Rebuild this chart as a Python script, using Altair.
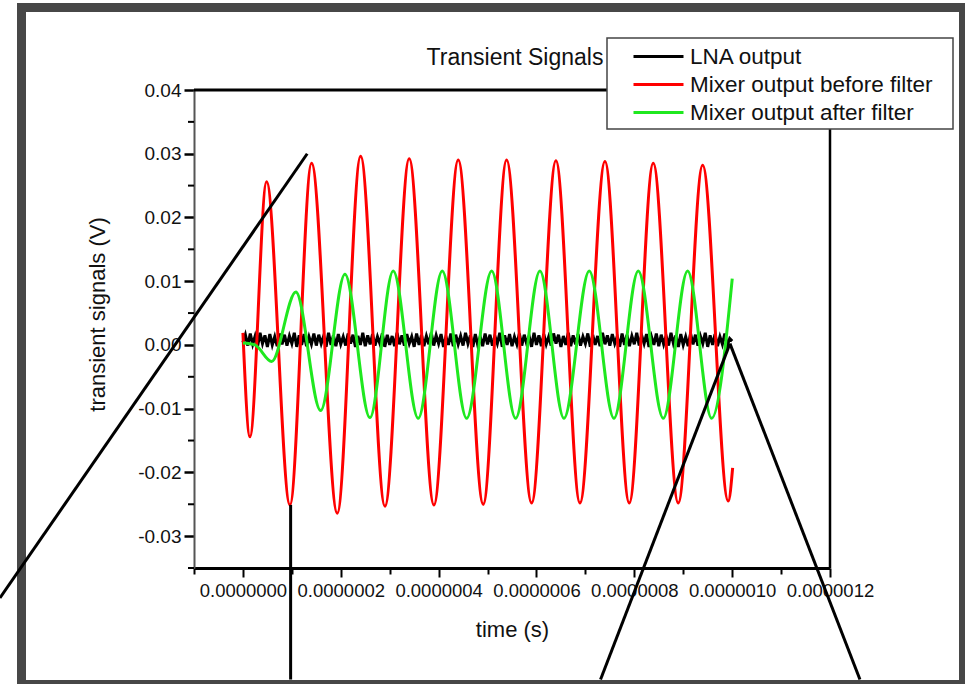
import altair as alt
import pandas as pd

# ---------------- data (time in microseconds, voltage in volts) ----------------
series_names = ["LNA output", "Mixer output before filter", "Mixer output after filter"]
series_colors = ["#000000", "#ff0000", "#1fe81f"]

# LNA output: dense small oscillation, sampled every 0.005 us (values in mV)
lna_step_us = 0.005
lna_mv = [
    0.4, 1.6, -0.1, 1.8, 0.1, 1.4, -0.2, 1.9, 0.2, 1.5,
    -0.3, 1.7, 0.0, 1.3, -0.2, 1.8, 0.1, 1.6, -0.1, 1.4,
    0.2, 1.9, -0.3, 1.5, 0.0, 1.7, -0.2, 1.3, 0.1, 1.8,
    -0.1, 1.6, 0.2, 1.4, -0.3, 1.9, 0.0, 1.5, -0.2, 1.7,
    0.1, 1.3, -0.1, 1.8, 0.2, 1.6, -0.3, 1.4, 0.0, 1.9,
    -0.2, 1.5, 0.1, 1.7, -0.1, 1.3, 0.2, 1.8, -0.3, 1.6,
    0.0, 1.4, -0.2, 1.9, 0.1, 1.5, -0.1, 1.7, 0.2, 1.3,
    -0.3, 1.8, 0.0, 1.6, -0.2, 1.4, 0.1, 1.9, -0.1, 1.5,
    0.2, 1.7, -0.3, 1.3, 0.0, 1.8, -0.2, 1.6, 0.1, 1.4,
    -0.1, 1.9, 0.2, 1.5, -0.3, 1.7, 0.0, 1.3, -0.2, 1.8,
    0.1, 1.6, -0.1, 1.4, 0.2, 1.9, -0.3, 1.5, 0.0, 1.7,
    -0.2, 1.3, 0.1, 1.8, -0.1, 1.6, 0.2, 1.4, -0.3, 1.9,
    0.0, 1.5, -0.2, 1.7, 0.1, 1.3, -0.1, 1.8, 0.2, 1.6,
    -0.3, 1.4, 0.0, 1.9, -0.2, 1.5, 0.1, 1.7, -0.1, 1.3,
    0.2, 1.8, -0.3, 1.6, 0.0, 1.4, -0.2, 1.9, 0.1, 1.5,
    -0.1, 1.7, 0.2, 1.3, -0.3, 1.8, 0.0, 1.6, -0.2, 1.4,
    0.1, 1.9, -0.1, 1.5, 0.2, 1.7, -0.3, 1.3, 0.0, 1.8,
    -0.2, 1.6, 0.1, 1.4, -0.1, 1.9, 0.2, 1.5, -0.3, 1.7,
    0.0, 1.3, -0.2, 1.8, 0.1, 1.6, -0.1, 1.4, 0.2, 1.9,
    -0.3, 1.5, 0.0, 1.7, -0.2, 1.3, 0.1, 1.8, -0.1, 1.0,
    0.6,
]

# Mixer output before filter: extrema
red_t_us = [0.000, 0.0143, 0.0484, 0.0961, 0.1404, 0.1928, 0.2406, 0.2903, 0.3399,
            0.3904, 0.4401, 0.4912, 0.5390, 0.5901, 0.6398, 0.6889, 0.7400, 0.7897,
            0.8387, 0.8898, 0.9397, 0.9920, 1.0010]
red_v = [0.0019, -0.0144, 0.0256, -0.0251, 0.0285, -0.0264, 0.0296, -0.0253, 0.0292,
         -0.0251, 0.0290, -0.0250, 0.0290, -0.0248, 0.0289, -0.0248, 0.0288, -0.0248,
         0.0285, -0.0248, 0.0282, -0.0245, -0.0193]

# Mixer output after filter: extrema
green_t_us = [0.000, 0.0245, 0.0587, 0.1083, 0.1588, 0.2085, 0.2596, 0.3072, 0.3583,
              0.4074, 0.4573, 0.5084, 0.5574, 0.6071, 0.6562, 0.7079, 0.7584, 0.8081,
              0.8592, 0.9090, 0.9581, 1.0002]
green_v = [0.0003, 0.0000, -0.0026, 0.0083, -0.0103, 0.0111, -0.0114, 0.0116, -0.0115,
           0.0116, -0.0115, 0.0116, -0.0115, 0.0116, -0.0115, 0.0116, -0.0115, 0.0116,
           -0.0115, 0.0116, -0.0115, 0.0104]

# annotation (zoom-indicator) lines, in data units (us, V)
ann_t0_us = [0.1314, 0.0975, 0.9955, 0.9955]
ann_v0 = [0.0300, -0.0251, 0.0002, 0.0002]
ann_t1_us = [-0.4967, 0.0975, 0.7310, 1.2612]
ann_v1 = [-0.0397, -0.0525, -0.0525, -0.0525]

x_domain = [-1e-7, 1.2e-6]
y_domain = [-0.035, 0.04]
x_tick_values = [k * 1e-7 for k in range(-1, 13)]
y_major_values = [k * 0.01 for k in range(-3, 5)]
y_minor_values = [-0.035, -0.025, -0.015, -0.005, 0.005, 0.015, 0.025, 0.035]

FONT = "Liberation Sans"
TXT = "#111111"

# ---------------- tables ----------------
lna_df = pd.DataFrame({
    "t": [i * lna_step_us * 1e-6 for i in range(len(lna_mv))],
    "v": [m / 1000.0 for m in lna_mv],
    "series": series_names[0],
})
red_df = pd.DataFrame({"t": [t * 1e-6 for t in red_t_us], "v": red_v, "series": series_names[1]})
green_df = pd.DataFrame({"t": [t * 1e-6 for t in green_t_us], "v": green_v, "series": series_names[2]})
ann_df = pd.DataFrame({
    "t0": [t * 1e-6 for t in ann_t0_us], "v0": ann_v0,
    "t1": [t * 1e-6 for t in ann_t1_us], "v1": ann_v1,
})
border_df = pd.DataFrame({
    "t0": [x_domain[0], x_domain[1]], "v0": [y_domain[1], y_domain[0]],
    "t1": [x_domain[1], x_domain[1]], "v1": [y_domain[1], y_domain[1]],
    "w": [3.0, 2.5],
})
minor_df = pd.DataFrame({"v": y_minor_values})

x_scale = alt.Scale(domain=x_domain, nice=False, zero=False)
y_scale = alt.Scale(domain=y_domain, nice=False, zero=False)

x_axis = alt.Axis(
    values=x_tick_values,
    labelExpr="round(datum.value*1e7) % 2 != 0 ? '' : format(datum.value, '.7f')",
    tickSize={"condition": {"test": "round(datum.value*1e7) % 2 != 0", "value": 6}, "value": 9},
    tickColor="#000000", tickWidth=2,
    domainColor="#000000", domainWidth=3,
    labelFont=FONT, labelFontSize=18.5, labelColor=TXT, labelPadding=4,
    labelFlush=False, labelOverlap=False,
    title="time (s)", titleFont=FONT, titleFontSize=22, titleFontWeight="normal",
    titleColor=TXT, titleY=61, titleBaseline="middle",
    grid=False,
)
y_axis = alt.Axis(
    values=y_major_values,
    labelExpr="(datum.value < -0.001 ? '-' : '') + format(abs(datum.value), '.2f')",
    tickSize=10, tickColor="#000000", tickWidth=2.5,
    domainColor="#555555", domainWidth=2,
    labelFont=FONT, labelFontSize=19, labelColor=TXT, labelPadding=3,
    labelFlush=False, labelOverlap=False,
    title="transient signals (V)", titleFont=FONT, titleFontSize=22, titleFontWeight="normal",
    titleColor=TXT, titleAngle=270, titleX=-97, titleY=224,
    titleBaseline="middle", titleAlign="center",
    grid=False,
)

color = alt.Color(
    "series:N",
    scale=alt.Scale(domain=series_names, range=series_colors),
    legend=alt.Legend(
        title=None, orient="none", legendX=413, legendY=-52,
        symbolType="M-2.5,0H2.5", symbolSize=400, symbolStrokeWidth=3,
        symbolOffset=33, labelOffset=20, labelLimit=600,
        labelFont=FONT, labelFontSize=22.5, labelColor=TXT,
        padding=7, rowPadding=5,
    ),
)

frame = alt.Chart(alt.Data(values=[{}])).mark_rect(
    fill=None, fillOpacity=0, stroke="#474747", strokeWidth=9
).encode(
    x=alt.value(-172.5), x2=alt.value(769.5), y=alt.value(-82.5), y2=alt.value(594.5)
)

def series_layer(df, width, interp):
    return alt.Chart(df).mark_line(strokeWidth=width, interpolate=interp).encode(
        x=alt.X("t:Q", scale=x_scale, axis=x_axis),
        y=alt.Y("v:Q", scale=y_scale, axis=y_axis),
        color=color,
    )

lna = series_layer(lna_df, 3, "linear")
red = series_layer(red_df, 3, "monotone")
green = series_layer(green_df, 3, "monotone")

minor_ticks = alt.Chart(minor_df).mark_rule(color="#000000", strokeWidth=2).encode(
    y=alt.Y("v:Q", scale=y_scale), x=alt.value(-6), x2=alt.value(0),
)

borders = alt.Chart(border_df).mark_rule(color="#000000").encode(
    x=alt.X("t0:Q", scale=x_scale), x2="t1:Q",
    y=alt.Y("v0:Q", scale=y_scale), y2="v1:Q",
    strokeWidth=alt.StrokeWidth("w:Q", scale=None, legend=None),
)

legend_box = alt.Chart(alt.Data(values=[{}])).mark_rect(
    fill="#ffffff", stroke="#444444", strokeWidth=1.5
).encode(
    x=alt.value(413), x2=alt.value(759), y=alt.value(-52), y2=alt.value(39)
)

ann = alt.Chart(ann_df).mark_rule(color="#000000", strokeWidth=3).encode(
    x=alt.X("t0:Q", scale=x_scale), x2="t1:Q",
    y=alt.Y("v0:Q", scale=y_scale), y2="v1:Q",
)

chart = alt.layer(frame, lna, red, green, minor_ticks, borders, legend_box, ann).properties(
    width=636, height=478,
    title=alt.TitleParams(
        "Transient Signals", font=FONT, fontSize=23, fontWeight="normal", color=TXT,
        anchor="middle", baseline="alphabetic", offset=23, dx=3, dy=108,
    ),
).configure(
    autosize=alt.AutoSizeParams(type="none"),
    padding={"left": 194, "top": 90, "right": 135, "bottom": 116},
    background="#ffffff",
).configure_view(stroke=None)

chart.save("out.html", embed_options={"renderer": "svg", "actions": False})
